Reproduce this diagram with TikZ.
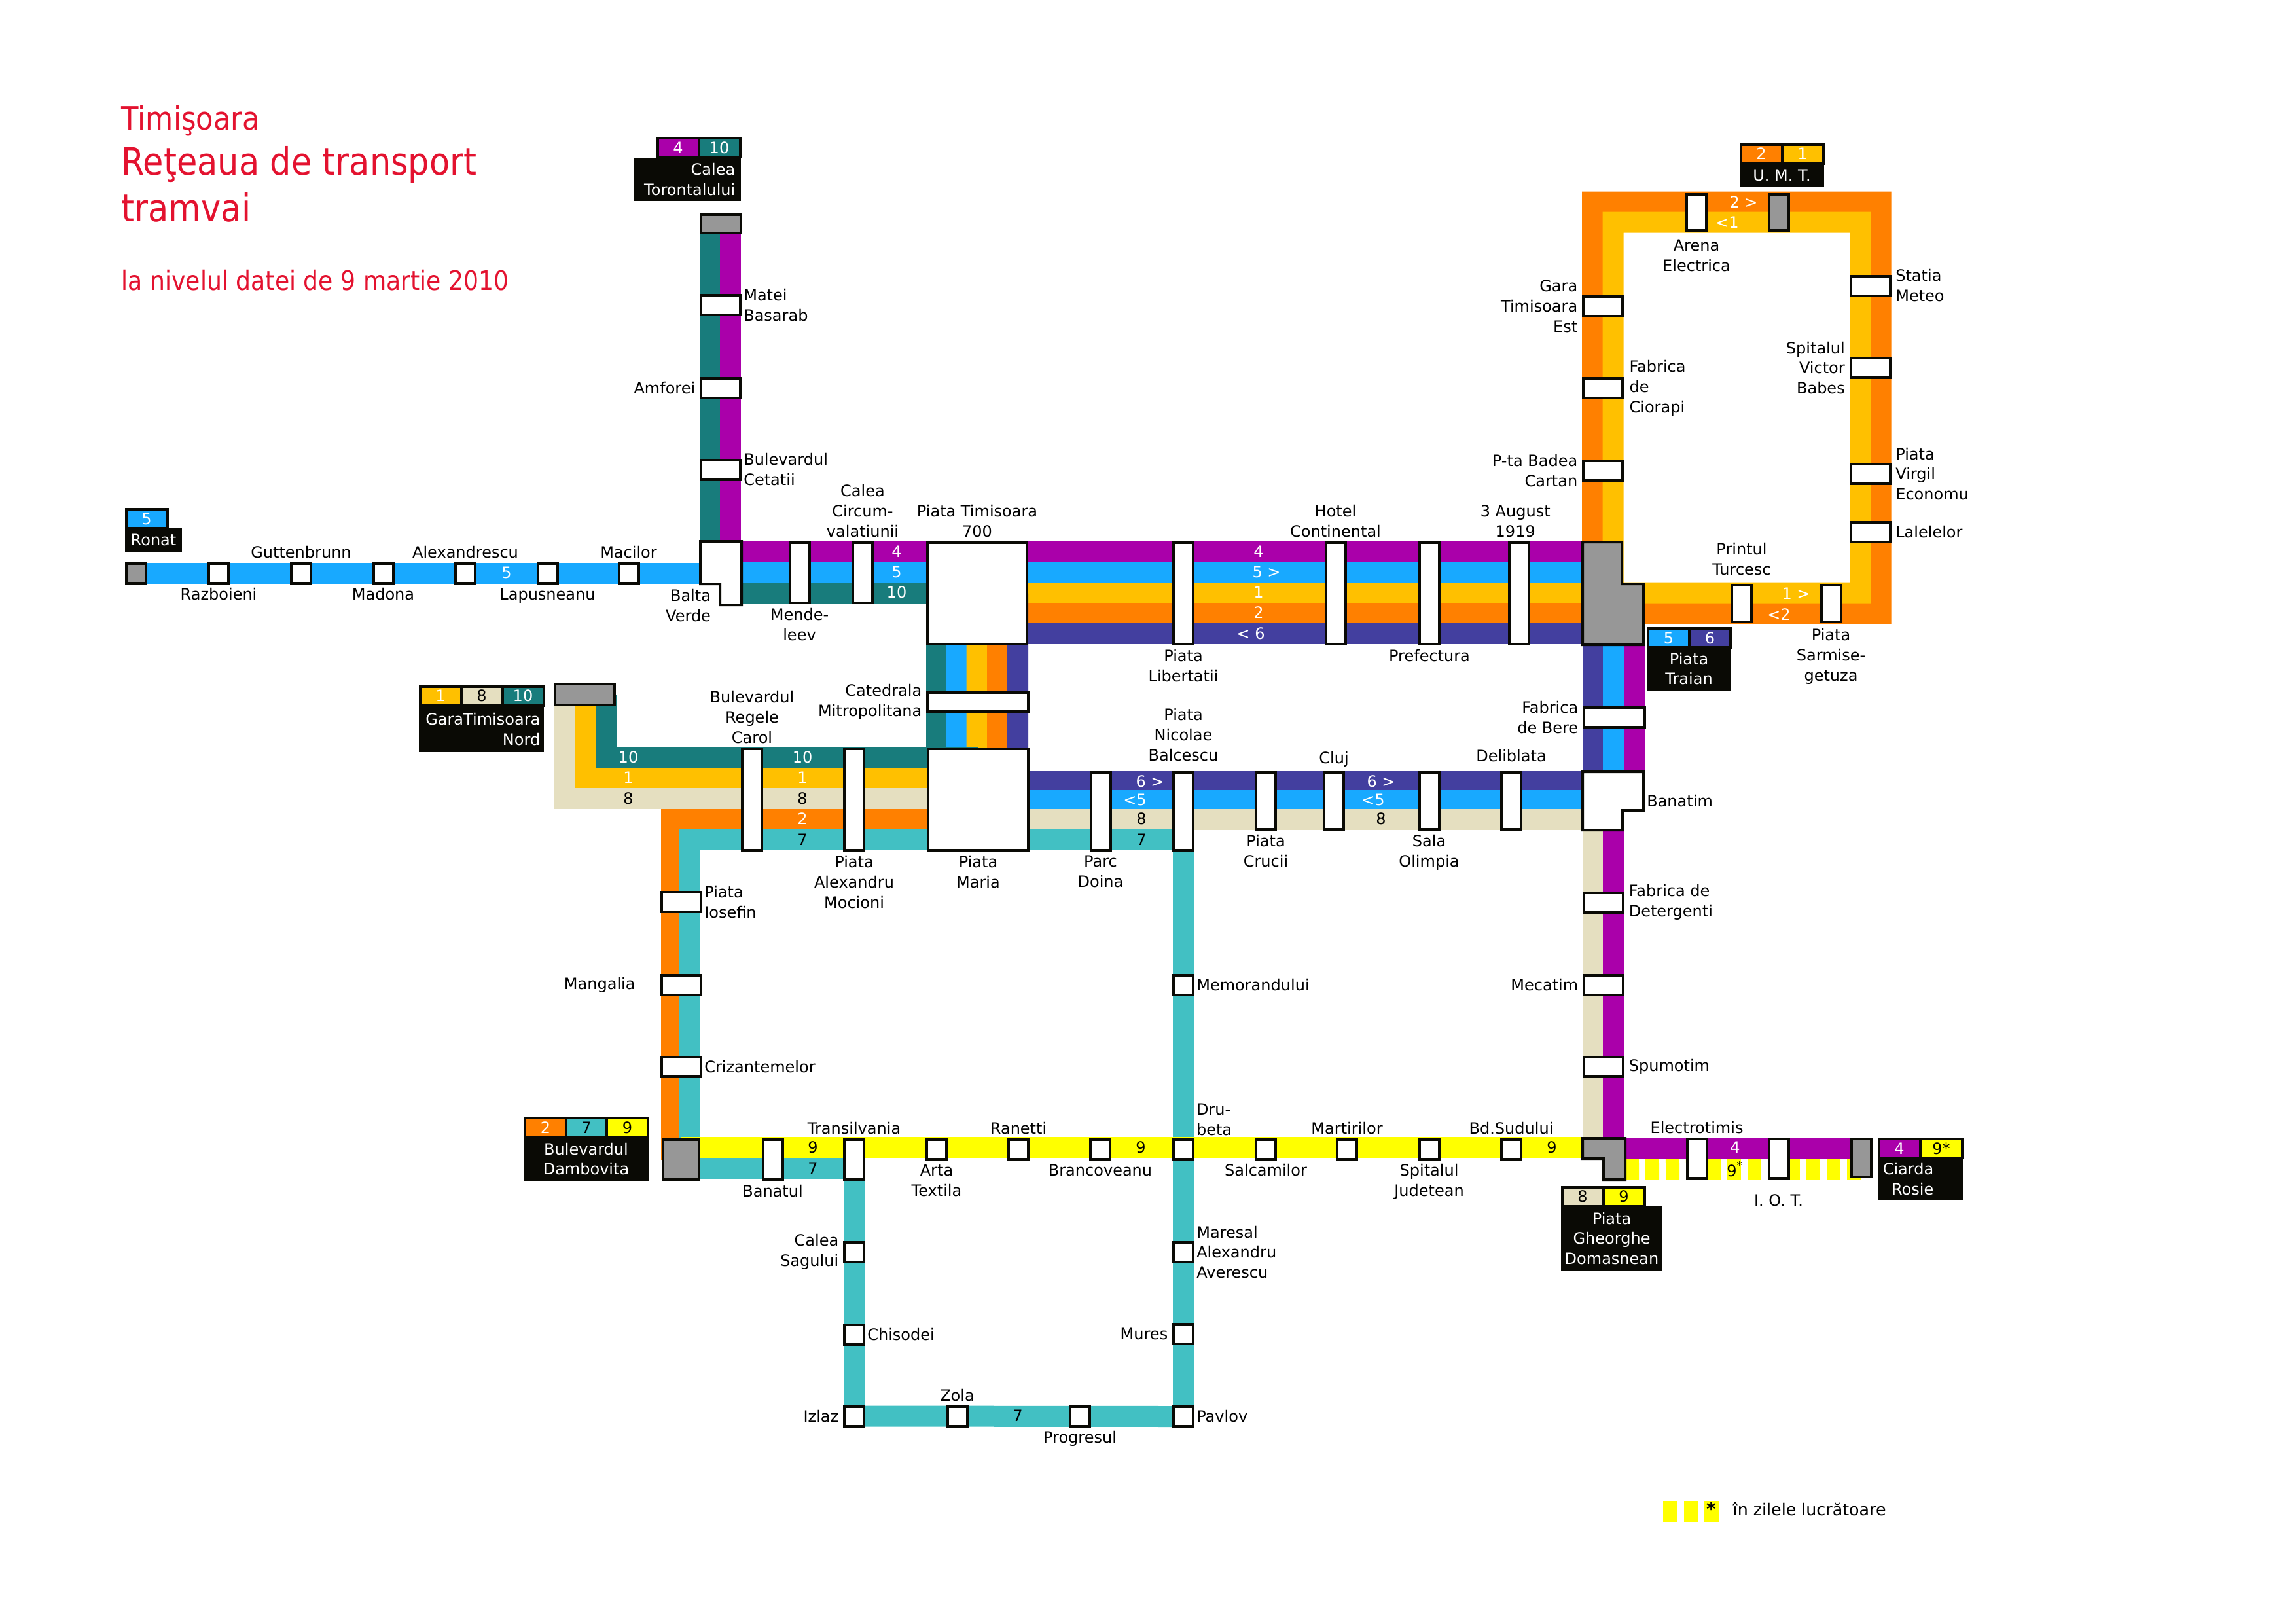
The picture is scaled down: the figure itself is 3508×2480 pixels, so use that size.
\documentclass[tikz,border=0pt]{standalone}
\usepackage{fontspec}
\setmainfont{DejaVu Sans}
\newfontfamily\titlefont[FakeStretch=0.88]{DejaVu Sans}
\usepackage{xcolor}
\usepackage{tikz}
\usetikzlibrary{positioning, backgrounds}
\definecolor{lineone}{HTML}{FFC000}
\definecolor{linetwo}{HTML}{FF8000}
\definecolor{linefour}{HTML}{AA00AA}
\definecolor{linefive}{HTML}{18A9FF}
\definecolor{linesix}{HTML}{433F9F}
\definecolor{lineseven}{HTML}{42C0C3}
\definecolor{lineeight}{HTML}{E5DFC0}
\definecolor{linenine}{HTML}{FFFF00}
\definecolor{lineten}{HTML}{187C7C}
\definecolor{endgray}{HTML}{979797}
\definecolor{termblack}{HTML}{0A0A05}
\definecolor{titlered}{HTML}{E3122F}
\tikzset{
  every node/.style={font=\fontsize{6.83pt}{8.8pt}\selectfont},
  stn/.style 2 args={draw=termblack, line width=0.4mm, fill=white, inner sep=0pt, outer sep=0pt, minimum width=#1mm, minimum height=#2mm},
  stop/.style={stn={3}{3}},
  hstop/.style={stn={6}{3}},
  endstn/.style={fill=endgray},
  hidden/.style={inner sep=0pt, outer sep=0pt, minimum width=#1},
  shapestn/.style={draw=termblack, line width=0.4mm, fill=white},
  band/.style={line width=3.2mm},
  lbl/.style={inner sep=0pt, outer sep=0pt, align=center},
  lbll/.style={lbl, align=right},
  lblr/.style={lbl, align=left},
  num/.style={inner sep=0pt, text=white},
  numdark/.style={inner sep=0pt, text=black},
  cell/.style={draw=termblack, line width=0.4mm, inner sep=0pt, outer sep=0pt, minimum width=6.3mm, minimum height=2.9mm},
  term/.style 2 args={fill=termblack, text=white, inner sep=0pt, outer sep=0pt, align=center, minimum width=#1mm, minimum height=#2mm},
  termtext/.style={text=white, inner sep=0pt, align=right, anchor=east},
  title/.style={inner sep=0pt, text=titlered, anchor=base west}
}
\begin{document}
\begin{tikzpicture}[x=0.1mm, y=-0.1mm, node distance=2.3pt and 2.5pt]
    \useasboundingbox (0,0) rectangle (3508,2480);

    \node[title, font=\titlefont\fontsize{14pt}{16pt}\selectfont] (ttown) at (185,198) {Timişoara};
    \node[title, font=\titlefont\fontsize{16.5pt}{19pt}\selectfont] (tnet) at (185,267) {Reţeaua de transport};
    \node[title, font=\titlefont\fontsize{16.5pt}{19pt}\selectfont] (ttram) at (185,338) {tramvai};
    \node[title, font=\titlefont\fontsize{11.7pt}{14pt}\selectfont] (tdate) at (185,443) {la nivelul datei de 9 martie 2010};

    \node[stop, endstn] (ronat) at (208,875.5) {};
    \node[stop] (razb) at (334,875.5) {};
    \node[stop] (gutt) at (460,875.5) {};
    \node[stop] (madona) at (585.5,875.5) {};
    \node[stop] (alexd) at (711,875.5) {};
    \node[stop] (lapus) at (836.5,875.5) {};
    \node[stop] (macil) at (960.5,875.5) {};

    \node[hidden=6.3mm, minimum height=9.7mm] (balta) at (1101.5,875.5) {};
    \draw[shapestn] (balta.north west) -- (balta.north east) -- (balta.south east) -- ++(-33,0) -- ++(0,-32) -- ++(-30,0) -- cycle;

    \node[stn={6.1}{2.8}, endstn] (toront) at (1101.5,341.5) {};
    \node[hstop] (matei) at (1101,466) {};
    \node[hstop] (amfor) at (1101,593) {};
    \node[hstop] (cetat) at (1101,717.5) {};

    \node[stn={3}{9.2}] (mende) at (1221.5,875) {};
    \node[stn={3}{9.2}] (circ) at (1318,875) {};
    \node[stn={15.2}{15.5}] (ptim) at (1493,906.5) {};
    \node[stn={15.4}{2.9}] (catedr) at (1494,1072.5) {};
    \node[stn={15.3}{15.5}] (maria) at (1494.5,1221.5) {};

    \node[stn={3}{15.5}] (libert) at (1808,906.5) {};
    \node[stn={3}{15.5}] (hotel) at (2040.5,906.5) {};
    \node[stn={3}{15.5}] (prefect) at (2184,906.5) {};
    \node[stn={3}{15.5}] (august) at (2320.5,906.5) {};

    \node[hidden=9.3mm, minimum height=15.7mm] (traian) at (2464.5,906.5) {};
    \draw[shapestn, fill=endgray] (traian.north west) -- ++(60,0) -- ++(0,64) -- ++(33,0) -- (traian.south east) -- (traian.south west) -- cycle;

    \node[stn={3}{5.5}] (arena) at (2592,324.5) {};
    \node[stn={3}{5.5}, endstn] (umt) at (2717.5,324.5) {};
    \node[hstop] (garaest) at (2449,467.5) {};
    \node[hstop] (ciorapi) at (2449,593) {};
    \node[hstop] (badea) at (2449,719) {};
    \node[hstop] (meteo) at (2857.5,436.5) {};
    \node[hstop] (babes) at (2857.5,562) {};
    \node[hstop] (virgil) at (2857.5,724) {};
    \node[hstop] (lalele) at (2857.5,813) {};
    \node[stn={3}{5.6}] (printul) at (2661,922) {};
    \node[stn={3}{5.6}] (sarmis) at (2797.5,922) {};

    \node[stn={9.3}{3}] (bere) at (2466.5,1096) {};
    \node[hidden=9.3mm, minimum height=8.9mm] (banatim) at (2464.5,1223.5) {};
    \draw[shapestn] (banatim.north west) -- (banatim.north east) -- ++(0,59) -- ++(-32,0) -- ++(0,30) -- (banatim.south west) -- cycle;
    \node[hstop] (deterg) at (2450,1378.5) {};
    \node[hstop] (mecat) at (2450,1504.5) {};
    \node[hstop] (spumot) at (2450,1629.5) {};

    \node[stn={9.1}{3.2}, endstn] (gnord) at (893.5,1061) {};
    \node[stn={3}{15.5}] (carol) at (1149,1221.5) {};
    \node[stn={3}{15.5}] (alexan) at (1305,1221.5) {};
    \node[hstop] (iosef) at (1041,1378) {};
    \node[hstop] (mangal) at (1041,1504.5) {};
    \node[hstop] (crizan) at (1041,1629.5) {};

    \node[stn={3}{11.9}] (doina) at (1681.5,1239.5) {};
    \node[stn={3}{11.9}] (balc) at (1808,1239.5) {};
    \node[stn={3}{8.7}] (crucii) at (1934,1223.5) {};
    \node[stn={3}{8.7}] (cluj) at (2038,1223.5) {};
    \node[stn={3}{8.7}] (sala) at (2183.5,1223.5) {};
    \node[stn={3}{8.7}] (delib) at (2309,1223.5) {};

    \node[stn={5.5}{6.1}, endstn] (dambov) at (1040.5,1771.5) {};
    \node[stn={3}{6.1}] (banatul) at (1180.5,1771.5) {};
    \node[stn={3}{6.1}] (transil) at (1305,1771.5) {};
    \node[stop] (arta) at (1431,1755.5) {};
    \node[stop] (ranet) at (1556,1755.5) {};
    \node[stop] (branco) at (1681,1755.5) {};
    \node[stop] (drub) at (1808,1755.5) {};
    \node[stop] (salcam) at (1934,1755.5) {};
    \node[stop] (martir) at (2058,1755.5) {};
    \node[stop] (spitju) at (2183.5,1755.5) {};
    \node[stop] (sudul) at (2309,1755.5) {};

    \node[hidden=6.5mm, minimum height=6.3mm] (domas) at (2450.5,1770.5) {};
    \draw[shapestn, fill=endgray] (domas.north west) -- (domas.north east) -- (domas.south east) -- ++(-33,0) -- ++(0,-32) -- ++(-32,0) -- cycle;
    \node[stn={3}{6}] (electro) at (2592.5,1770) {};
    \node[stn={3}{6}] (iot) at (2717.5,1770) {};
    \node[stn={3}{5.8}, endstn] (ciarda) at (2843.5,1769) {};

    \node[stop] (memor) at (1808,1504.5) {};
    \node[stop] (maresal) at (1808,1913) {};
    \node[stop] (mures) at (1808,2038) {};
    \node[stop] (pavlov) at (1808,2164) {};
    \node[stop] (sagul) at (1305,1912.5) {};
    \node[stop] (chisod) at (1305,2038.5) {};
    \node[stop] (izlaz) at (1305,2163.5) {};
    \node[stop] (zola) at (1462.5,2163.5) {};
    \node[stop] (progr) at (1650,2163.5) {};

    \begin{scope}[on background layer]
        \draw[band, linefive] (ronat) -- (balta);
        \draw[band, lineten] ([shift={(-17,0)}]toront.center) -- ([shift={(-17,0)}]balta.center);
        \draw[band, linefour] ([shift={(14.5,0)}]toront.center) -- ([shift={(14.5,0)}]balta.center);
        \draw[band, linefour] ([shift={(0,-32.5)}]balta.center) -- ([shift={(0,-63.5)}]ptim.center);
        \draw[band, linefive] ([shift={(0,-1.5)}]balta.center) -- ([shift={(0,-32.5)}]ptim.center);
        \draw[band, lineten] ([shift={(0,30)}]balta.center) -- ([shift={(0,-1)}]ptim.center);

        \draw[band, linefour] ([shift={(0,-63.5)}]ptim.center) -- ([shift={(0,-63.5)}]traian.center);
        \draw[band, linefive] ([shift={(0,-32.5)}]ptim.center) -- ([shift={(0,-32.5)}]traian.center);
        \draw[band, lineone] ([shift={(0,-1)}]ptim.center) -- ([shift={(0,-1)}]traian.center);
        \draw[band, linetwo] ([shift={(0,30)}]ptim.center) -- ([shift={(0,30)}]traian.center);
        \draw[band, linesix] ([shift={(0,61.5)}]ptim.center) -- ([shift={(0,61.5)}]traian.center);

        \draw[band, lineten] ([shift={(-62,0)}]ptim.center) -- ([shift={(-63.5,0)}]maria.center);
        \draw[band, linefive] ([shift={(-31,0)}]ptim.center) -- ([shift={(-32.5,0)}]maria.center);
        \draw[band, lineone] ([shift={(-0.5,0)}]ptim.center) -- ([shift={(-2,0)}]maria.center);
        \draw[band, linetwo] ([shift={(30.5,0)}]ptim.center) -- ([shift={(29,0)}]maria.center);
        \draw[band, linesix] ([shift={(62,0)}]ptim.center) -- ([shift={(60.5,0)}]maria.center);

        \draw[band, linetwo] ([shift={(-31.5,0)}]traian.center) |- ([shift={(0,-16)}]arena.center) -| ([shift={(16,0)}]meteo.center) |- ([shift={(0,15)}]printul.center) -- ([shift={(0,30.5)}]traian.center);
        \draw[band, lineone] (traian.center) |- ([shift={(0,15)}]arena.center) -| ([shift={(-15.5,0)}]meteo.center) |- ([shift={(0,-16.5)}]printul.center) -- ([shift={(0,-1)}]traian.center);

        \draw[band, linesix] ([shift={(-31,0)}]traian.center) -- ([shift={(-31,0)}]banatim.center);
        \draw[band, linefive] ([shift={(0.5,0)}]traian.center) -- ([shift={(0.5,0)}]banatim.center);
        \draw[band, linefour] ([shift={(32,0)}]traian.center) -- ([shift={(32,0)}]banatim.center);
        \draw[band, lineeight] ([shift={(-31,0)}]banatim.center) -- ([shift={(-17,0)}]domas.center);
        \draw[band, linefour] ([shift={(0.5,0)}]banatim.center) -- ([shift={(14.5,0)}]domas.center);

        \draw[band, lineeight] ([shift={(-32,0)}]gnord.center) |- ([shift={(0,-1.5)}]maria.center);
        \draw[band, lineone] (gnord.center) |- ([shift={(0,-33.5)}]maria.center);
        \draw[band, lineten] ([shift={(32,0)}]gnord.center) |- ([shift={(0,-64.5)}]maria.center);
        \draw[band, linetwo] ([shift={(-14.5,0)}]dambov.center) |- ([shift={(0,30)}]maria.center);
        \draw[band, lineseven] ([shift={(13,0)}]dambov.center) |- ([shift={(0,61.5)}]maria.center);

        \draw[band, linesix] ([shift={(0,-27.5)}]maria.center) -- ([shift={(0,-29.5)}]banatim.center);
        \draw[band, linefive] ([shift={(0,1)}]maria.center) -- ([shift={(0,-1)}]banatim.center);
        \draw[band, lineeight] ([shift={(0,30.5)}]maria.center) -- ([shift={(0,28.5)}]banatim.center);
        \draw[band, lineseven] ([shift={(0,61.5)}]maria.center) -- ([shift={(0,43.5)}]balc.center);

        \draw[band, lineseven] (balc) -- (pavlov);
        \draw[band, lineseven] (pavlov) -- (izlaz);
        \draw[band, lineseven] (izlaz) -- (transil);
        \draw[band, lineseven] ([shift={(0,13.5)}]dambov.center) -- ([shift={(0,13.5)}]transil.center);
        \draw[band, linenine] ([shift={(0,-18.5)}]dambov.center) -- ([shift={(0,-17.5)}]domas.center);

        \draw[band, linefour] ([shift={(0,-16.5)}]domas.center) -- ([shift={(0,-15)}]ciarda.center);
        \draw[band, linenine, dash pattern=on 2.1mm off 1mm] ([shift={(0,16)}]domas.east) -- ([shift={(0,16)}]electro.center);
        \draw[band, linenine, dash pattern=on 2.1mm off 1mm] ([shift={(0,16)}]electro.east) -- ([shift={(0,16)}]iot.center);
        \draw[band, linenine, dash pattern=on 2.1mm off 1mm, dash phase=0.4mm] ([shift={(0,16)}]iot.east) -- ([shift={(0,17)}]ciarda.center);
    \end{scope}

    \node[lbl, below=of razb] (lrazb) {Razboieni};
    \node[lbl, above=of gutt] (lgutt) {Guttenbrunn};
    \node[lbl, below=of madona] (lmadona) {Madona};
    \node[lbl, above=of alexd] (lalexd) {Alexandrescu};
    \node[lbl, below=of lapus] (llapus) {Lapusneanu};
    \node[lbl, above=of macil] (lmacil) {Macilor};
    \node[lbll, anchor=north east] (lbalta) at (1086,900) {Balta\\Verde};
    \node[lblr, right=1.5pt of matei] (lmatei) {Matei\\Basarab};
    \node[lbll, left=of amfor] (lamfor) {Amforei};
    \node[lblr, right=1.5pt of cetat] (lcetat) {Bulevardul\\Cetatii};
    \node[lbl, below=of mende] (lmende) {Mende-\\leev};
    \node[lbl, above=of circ] (lcirc) {Calea\\Circum-\\valatiunii};
    \node[lbl, above=of ptim] (lptim) {Piata Timisoara\\700};
    \node[lbll, left=of catedr] (lcatedr) {Catedrala\\Mitropolitana};
    \node[lbl, below=of libert] (llibert) {Piata\\Libertatii};
    \node[lbl, above=of hotel] (lhotel) {Hotel\\Continental};
    \node[lbl, below=of prefect] (lprefect) {Prefectura};
    \node[lbl, above=of august, xshift=-1.5pt] (laugust) {3 August\\1919};
    \node[lbl, below=4pt of arena] (larena) {Arena\\Electrica};
    \node[lbll, left=of garaest] (lgaraest) {Gara\\Timisoara\\Est};
    \node[lblr, right=3pt of ciorapi] (lciorapi) {Fabrica\\de\\Ciorapi};
    \node[lbll, left=of badea] (lbadea) {P-ta Badea\\Cartan};
    \node[lblr, right=of meteo] (lmeteo) {Statia\\Meteo};
    \node[lbll, left=of babes] (lbabes) {Spitalul\\Victor\\Babes};
    \node[lblr, right=of virgil] (lvirgil) {Piata\\Virgil\\Economu};
    \node[lblr, right=of lalele] (llalele) {Lalelelor};
    \node[lbl, above=4.3pt of printul] (lprintul) {Printul\\Turcesc};
    \node[lbl, below=3pt of sarmis] (lsarmis) {Piata\\Sarmise-\\getuza};
    \node[lbll, left=of bere] (lbere) {Fabrica\\de Bere};
    \node[lblr, right=1.5pt of banatim] (lbanatim) {Banatim};
    \node[lblr, right=of deterg] (ldeterg) {Fabrica de\\Detergenti};
    \node[lbll, left=of mecat] (lmecat) {Mecatim};
    \node[lblr, right=of spumot] (lspumot) {Spumotim};
    \node[lbl, above=of carol] (lcarol) {Bulevardul\\Regele\\Carol};
    \node[lbl, below=of alexan] (lalexan) {Piata\\Alexandru\\Mocioni};
    \node[lbl, below=of maria] (lmaria) {Piata\\Maria};
    \node[lbl, below=of doina] (ldoina) {Parc\\Doina};
    \node[lbl, above=5pt of balc] (lbalc) {Piata\\Nicolae\\Balcescu};
    \node[lbl, below=of crucii] (lcrucii) {Piata\\Crucii};
    \node[lbl, above=of cluj] (lcluj) {Cluj};
    \node[lbl, below=of sala] (lsala) {Sala\\Olimpia};
    \node[lbl, above=4.5pt of delib] (ldelib) {Deliblata};
    \node[lblr, right=1.5pt of iosef] (liosef) {Piata\\Iosefin};
    \node[lbll, left=11.5pt of mangal] (lmangal) {Mangalia};
    \node[lblr, right=1.5pt of crizan] (lcrizan) {Crizantemelor};
    \node[lbl, below=of banatul] (lbanatul) {Banatul};
    \node[lbl, above=of transil] (ltransil) {Transilvania};
    \node[lbl, below=of arta] (larta) {Arta\\Textila};
    \node[lbl, above=of ranet] (lranet) {Ranetti};
    \node[lbl, below=of branco] (lbranco) {Brancoveanu};
    \node[lblr, anchor=south west] (ldrub) at (1828,1735) {Dru-\\beta};
    \node[lbl, below=of salcam] (lsalcam) {Salcamilor};
    \node[lbl, above=of martir] (lmartir) {Martirilor};
    \node[lbl, below=of spitju] (lspitju) {Spitalul\\Judetean};
    \node[lbl, above=of sudul] (lsudul) {Bd.Sudului};
    \node[lbl, above=of electro] (lelectro) {Electrotimis};
    \node[lbl, below=7pt of iot] (liot) {I. O. T.};
    \node[lblr, right=1.5pt of memor] (lmemor) {Memorandului};
    \node[lblr, right=1.5pt of maresal] (lmaresal) {Maresal\\Alexandru\\Averescu};
    \node[lbll, left=of mures] (lmures) {Mures};
    \node[lblr, right=1.5pt of pavlov] (lpavlov) {Pavlov};
    \node[lbll, left=of sagul] (lsagul) {Calea\\Sagului};
    \node[lblr, right=1.5pt of chisod] (lchisod) {Chisodei};
    \node[lbll, left=of izlaz] (lizlaz) {Izlaz};
    \node[lbl, above=of zola] (lzola) {Zola};
    \node[lbl, below=of progr] (lprogr) {Progresul};

    \node[num] (n5a) at (774,875) {5};
    \node[num] (n4a) at (1370,843) {4};
    \node[num] (n5b) at (1370,874) {5};
    \node[num] (n10a) at (1370,905) {10};
    \node[num] (n4b) at (1923,843) {4};
    \node[num] (n5c) at (1935,874) {5 >};
    \node[num] (n1a) at (1923,905) {1};
    \node[num] (n2a) at (1923,936) {2};
    \node[num] (n6a) at (1911,968) {< 6};
    \node[num] (n10b) at (960,1157) {10};
    \node[num] (n1b) at (960,1188) {1};
    \node[numdark] (n8a) at (960,1220) {8};
    \node[num] (n10c) at (1226,1157) {10};
    \node[num] (n1c) at (1226,1188) {1};
    \node[numdark] (n8b) at (1226,1220) {8};
    \node[num] (n2b) at (1226,1251) {2};
    \node[numdark] (n7a) at (1226,1283) {7};
    \node[num] (n6b) at (1757,1194) {6 >};
    \node[num] (n5d) at (1734,1222) {<5};
    \node[numdark] (n8c) at (1744,1251) {8};
    \node[numdark] (n7b) at (1744,1283) {7};
    \node[num] (n6c) at (2110,1194) {6 >};
    \node[num] (n5e) at (2098,1222) {<5};
    \node[numdark] (n8d) at (2110,1251) {8};
    \node[numdark] (n9a) at (1242,1753) {9};
    \node[numdark] (n7c) at (1242,1785) {7};
    \node[numdark] (n9b) at (1743,1753) {9};
    \node[numdark] (n9c) at (2371,1753) {9};
    \node[num] (n4c) at (2651,1753) {4};
    \node[numdark] (n9d) at (2651,1786) {9\textsuperscript{*}};
    \node[numdark] (n7d) at (1555,2163) {7};
    \node[num] (n2c) at (2664,309) {2 >};
    \node[num] (n1d) at (2639,340) {<1};
    \node[num] (n1e) at (2744,907) {1 >};
    \node[num] (n2d) at (2718,939) {<2};

    \node[cell, fill=linefive, text=white] (c5ronat) at (224,792.5) {5};
    \node[term={8.7}{3.6}] (kronat) at (234.5,825) {Ronat};

    \node[cell, fill=linefour, text=white] (c4toro) at (1036,225.5) {4};
    \node[cell, fill=lineten, text=white] (c10toro) at (1099,225.5) {10};
    \node[term={16.4}{6.6}] (ktoro) at (1050,274) {};
    \node[termtext] (ttoro) at (1124,274) {Calea\\Torontalului};

    \node[cell, fill=linetwo, text=white] (c2umt) at (2691,235) {2};
    \node[cell, fill=lineone, text=white] (c1umt) at (2754,235) {1};
    \node[term={12.9}{3.5}] (kumt) at (2722.5,267.5) {U. M. T.};

    \node[cell, fill=linefive, text=white] (c5tra) at (2549.5,974.5) {5};
    \node[cell, fill=linesix, text=white] (c6tra) at (2612.5,974.5) {6};
    \node[term={12.9}{6.7}] (ktra) at (2580.5,1021.5) {Piata\\Traian};

    \node[cell, fill=lineone, text=white] (c1nor) at (673,1063) {1};
    \node[cell, fill=lineeight] (c8nor) at (736,1063) {8};
    \node[cell, fill=lineten, text=white] (c10nor) at (799,1063) {10};
    \node[term={19.1}{7}] (knor) at (735.5,1114) {};
    \node[termtext] (tnor) at (826,1114) {GaraTimisoara\\Nord};

    \node[cell, fill=linetwo, text=white] (c2dam) at (833.5,1722.5) {2};
    \node[cell, fill=lineseven] (c7dam) at (896,1722.5) {7};
    \node[cell, fill=linenine] (c9dam) at (958.5,1722.5) {9};
    \node[term={19.1}{6.7}] (kdam) at (895.5,1770.5) {Bulevardul\\Dambovita};

    \node[cell, fill=lineeight] (c8dom) at (2418,1828) {8};
    \node[cell, fill=linenine] (c9dom) at (2481,1828) {9};
    \node[term={15.5}{9.8}] (kdom) at (2462.5,1892) {Piata\\Gheorghe\\Domasnean};

    \node[cell, fill=linefour, text=white] (c4cia) at (2902,1754.5) {4};
    \node[cell, fill=linenine] (c9cia) at (2966,1754.5) {9*};
    \node[term={13}{6.6}] (kcia) at (2934,1801) {};
    \node[termtext] (tcia) at (2955,1801) {Ciarda\\Rosie};

    \node[inner sep=0pt, outer sep=0pt, fill=linenine, minimum width=2.2mm, minimum height=3.2mm] (foota) at (2552,2309) {};
    \node[inner sep=0pt, outer sep=0pt, fill=linenine, minimum width=2.2mm, minimum height=3.2mm] (footb) at (2583.5,2309) {};
    \node[inner sep=0pt, outer sep=0pt, fill=linenine, minimum width=2.2mm, minimum height=3.2mm] (footc) at (2614.5,2309) {};
    \node[inner sep=0pt, font=\fontsize{8pt}{9pt}\selectfont\bfseries] (footstar) at (2614.5,2305) {*};
    \node[inner sep=0pt, anchor=west, font=\fontsize{7.2pt}{9pt}\selectfont] (foottext) at (2647,2306) {în zilele lucrătoare};
\end{tikzpicture}
\end{document}
